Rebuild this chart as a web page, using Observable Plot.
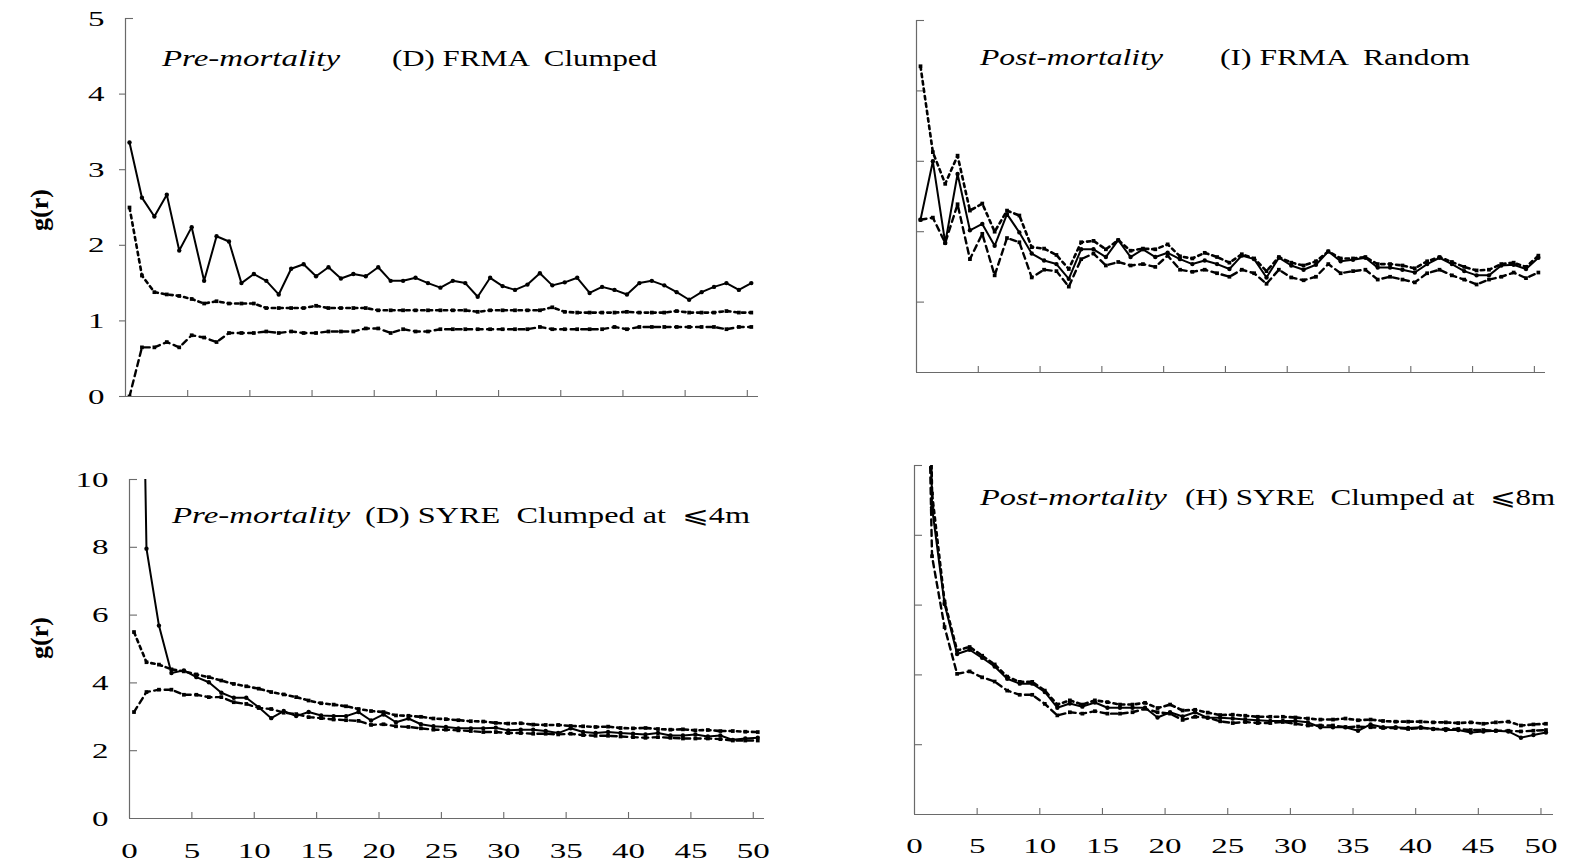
<!DOCTYPE html>
<html>
<head>
<meta charset="utf-8">
<script src="https://cdn.jsdelivr.net/npm/d3@7"></script>
<script src="https://cdn.jsdelivr.net/npm/@observablehq/plot@0.6"></script>
<style>
  body { margin: 0; background: #fff; }
  #fig { position: relative; width: 1572px; height: 862px; overflow: hidden;
         font-family: "Liberation Serif", "Times New Roman", serif; }
  #fig > svg { position: absolute; }
</style>
</head>
<body>
<div id="fig"></div>
<script>
// Distance classes r (m) and tick values shared by all panels
const lag = d3.range(0, 51);
const xTicks = [0, 5, 10, 15, 20, 25, 30, 35, 40, 45, 50];

// FRMA, pre-mortality: observed g(r), upper and lower envelopes
const frmaPreObs = [3.36, 2.63, 2.38, 2.67, 1.93, 2.24, 1.53, 2.12, 2.05, 1.50,
  1.62, 1.53, 1.35, 1.69, 1.75, 1.59, 1.71, 1.56, 1.62, 1.59,
  1.71, 1.53, 1.53, 1.57, 1.50, 1.44, 1.53, 1.50, 1.32, 1.57,
  1.46, 1.41, 1.48, 1.63, 1.47, 1.51, 1.57, 1.37, 1.45, 1.41,
  1.35, 1.50, 1.53, 1.47, 1.38, 1.28, 1.38, 1.45, 1.50, 1.41, 1.50];
const frmaPreHi = [2.50, 1.60, 1.38, 1.35, 1.33, 1.29, 1.23, 1.26, 1.23, 1.23,
  1.23, 1.17, 1.17, 1.17, 1.17, 1.20, 1.17, 1.17, 1.17, 1.17,
  1.14, 1.14, 1.14, 1.14, 1.14, 1.14, 1.14, 1.14, 1.12, 1.14,
  1.14, 1.14, 1.14, 1.14, 1.18, 1.12, 1.11, 1.11, 1.11, 1.11,
  1.12, 1.11, 1.11, 1.11, 1.13, 1.11, 1.11, 1.11, 1.13, 1.11, 1.11];
const frmaPreLo = [0.00, 0.65, 0.65, 0.72, 0.65, 0.81, 0.78, 0.72, 0.84, 0.84,
  0.84, 0.86, 0.84, 0.86, 0.84, 0.84, 0.86, 0.86, 0.86, 0.90,
  0.90, 0.84, 0.89, 0.86, 0.86, 0.89, 0.89, 0.89, 0.89, 0.89,
  0.89, 0.89, 0.89, 0.92, 0.89, 0.89, 0.89, 0.89, 0.89, 0.92,
  0.89, 0.92, 0.92, 0.92, 0.92, 0.92, 0.92, 0.92, 0.89, 0.92, 0.92];

// FRMA, post-mortality
const frmaPostObs = [2.17, 3.00, 1.84, 2.82, 2.02, 2.11, 1.80, 2.25, 1.99, 1.69,
  1.59, 1.54, 1.33, 1.75, 1.75, 1.64, 1.88, 1.64, 1.75, 1.64,
  1.70, 1.61, 1.54, 1.59, 1.54, 1.47, 1.66, 1.61, 1.35, 1.63,
  1.52, 1.46, 1.53, 1.72, 1.58, 1.60, 1.63, 1.49, 1.49, 1.46,
  1.42, 1.54, 1.63, 1.54, 1.44, 1.38, 1.38, 1.52, 1.53, 1.47, 1.63];
const frmaPostHi = [4.35, 3.13, 2.68, 3.08, 2.30, 2.40, 2.00, 2.30, 2.23, 1.78,
  1.76, 1.67, 1.47, 1.85, 1.87, 1.75, 1.88, 1.73, 1.76, 1.75,
  1.82, 1.65, 1.62, 1.70, 1.64, 1.56, 1.68, 1.62, 1.44, 1.64,
  1.56, 1.52, 1.58, 1.72, 1.62, 1.62, 1.64, 1.54, 1.54, 1.52,
  1.48, 1.58, 1.64, 1.57, 1.50, 1.45, 1.46, 1.54, 1.56, 1.50, 1.66];
const frmaPostLo = [2.17, 2.20, 1.84, 2.39, 1.61, 1.97, 1.38, 1.91, 1.85, 1.35,
  1.46, 1.44, 1.22, 1.61, 1.69, 1.52, 1.57, 1.52, 1.54, 1.50,
  1.66, 1.46, 1.43, 1.46, 1.41, 1.36, 1.46, 1.41, 1.26, 1.46,
  1.35, 1.31, 1.36, 1.54, 1.41, 1.44, 1.46, 1.32, 1.36, 1.32,
  1.28, 1.41, 1.46, 1.38, 1.32, 1.25, 1.32, 1.36, 1.42, 1.34, 1.42];

// SYRE, pre-mortality (first class runs off the top of the axis)
const syrePreObs = [30, 7.96, 5.69, 4.29, 4.37, 4.17, 4.02, 3.71, 3.56, 3.56,
  3.28, 2.96, 3.17, 3.02, 3.14, 3.04, 3.02, 3.02, 3.14, 2.89,
  3.07, 2.84, 2.95, 2.78, 2.72, 2.70, 2.66, 2.66, 2.66, 2.68,
  2.60, 2.62, 2.62, 2.58, 2.52, 2.66, 2.55, 2.52, 2.55, 2.52,
  2.50, 2.48, 2.52, 2.45, 2.45, 2.48, 2.42, 2.45, 2.32, 2.36, 2.38];
const syrePreHi = [5.50, 4.61, 4.54, 4.40, 4.34, 4.25, 4.17, 4.07, 3.97, 3.90,
  3.83, 3.73, 3.66, 3.58, 3.48, 3.40, 3.36, 3.31, 3.23, 3.17,
  3.14, 3.04, 3.03, 3.00, 2.95, 2.93, 2.90, 2.87, 2.86, 2.82,
  2.80, 2.81, 2.77, 2.76, 2.76, 2.73, 2.72, 2.70, 2.71, 2.67,
  2.66, 2.67, 2.64, 2.62, 2.63, 2.60, 2.61, 2.58, 2.58, 2.56, 2.55];
const syrePreLo = [3.14, 3.73, 3.80, 3.80, 3.65, 3.65, 3.58, 3.58, 3.43, 3.38,
  3.26, 3.23, 3.12, 3.08, 2.99, 2.96, 2.92, 2.90, 2.88, 2.76,
  2.78, 2.72, 2.70, 2.66, 2.62, 2.62, 2.60, 2.58, 2.55, 2.55,
  2.52, 2.52, 2.50, 2.50, 2.48, 2.50, 2.46, 2.44, 2.44, 2.42,
  2.40, 2.38, 2.40, 2.38, 2.36, 2.36, 2.36, 2.34, 2.30, 2.30, 2.30];

// SYRE, post-mortality
const syrePostObs = [35, 8.8, 6.03, 4.60, 4.72, 4.49, 4.24, 3.89, 3.75, 3.75,
  3.51, 3.06, 3.18, 3.09, 3.21, 3.06, 3.06, 3.06, 3.06, 2.78,
  2.93, 2.81, 2.93, 2.77, 2.77, 2.75, 2.72, 2.70, 2.68, 2.68,
  2.68, 2.64, 2.50, 2.50, 2.50, 2.40, 2.58, 2.50, 2.50, 2.48,
  2.50, 2.45, 2.42, 2.42, 2.35, 2.38, 2.40, 2.38, 2.20, 2.28, 2.35];
const syrePostHi = [30, 9.2, 6.10, 4.70, 4.80, 4.55, 4.30, 3.95, 3.80, 3.80,
  3.55, 3.15, 3.27, 3.15, 3.27, 3.22, 3.15, 3.15, 3.20, 3.05,
  3.15, 2.98, 3.00, 2.92, 2.85, 2.86, 2.83, 2.80, 2.80, 2.80,
  2.78, 2.75, 2.72, 2.72, 2.75, 2.70, 2.72, 2.68, 2.66, 2.66,
  2.66, 2.64, 2.64, 2.62, 2.64, 2.60, 2.64, 2.66, 2.55, 2.58, 2.60];
const syrePostLo = [25, 7.4, 5.37, 4.03, 4.10, 3.93, 3.81, 3.55, 3.43, 3.43,
  3.17, 2.84, 2.93, 2.89, 2.96, 2.89, 2.89, 2.93, 3.03, 2.93,
  2.89, 2.71, 2.80, 2.78, 2.67, 2.62, 2.65, 2.62, 2.62, 2.65,
  2.60, 2.55, 2.55, 2.55, 2.50, 2.52, 2.50, 2.48, 2.48, 2.45,
  2.48, 2.45, 2.45, 2.45, 2.42, 2.42, 2.40, 2.40, 2.38, 2.40, 2.42];

const ink = "#000";
const axisInk = "#6a6a6a";
const serif = '"Liberation Serif", "Times New Roman", serif';

// Stretch SVG text horizontally (wide, tightly set serif lettering)
function widen(root, k) {
  root.querySelectorAll("text").forEach(t => {
    const w = t.getComputedTextLength();
    if (w > 0) {
      t.setAttribute("textLength", (w * k).toFixed(1));
      t.setAttribute("lengthAdjust", "spacingAndGlyphs");
    }
  });
}

function panel(p) {
  const iw = p.width - p.ml - p.mr;
  const ih = p.height - p.mt - p.mb;
  const series = (vals, style, dotStyle) => [
    Plot.line(lag, {x: d => d, y: (d, i) => vals[i], dx: p.dx, clip: true, stroke: ink, ...style}),
    Plot.dot(lag, {x: d => d, y: (d, i) => vals[i], dx: p.dx, clip: true, fill: ink, stroke: "none", ...dotStyle})
  ];
  const marks = [
    Plot.ruleY([0], {stroke: axisInk, strokeWidth: 1.2}),
    Plot.ruleX([0], {stroke: axisInk, strokeWidth: 1.2}),
    Plot.tickX(xTicks.slice(1), {x: d => d, insetTop: ih - 6, stroke: axisInk, strokeWidth: 1.1}),
    Plot.tickY(p.yTicksOut || [], {y: d => d, insetLeft: -6, insetRight: iw, stroke: axisInk, strokeWidth: 1.1}),
    Plot.tickY(p.yTicksIn || [], {y: d => d, insetRight: iw - 8, stroke: axisInk, strokeWidth: 1.1}),
    ...series(p.lo, {strokeWidth: 2.4, strokeDasharray: "6,4.5"}, {r: 2.1, symbol: "square"}),
    ...series(p.hi, {strokeWidth: 2.6, strokeDasharray: "3.5,4"}, {r: 2.1, symbol: "square"}),
    ...series(p.obs, {strokeWidth: 2}, {r: 2.2})
  ];
  if (p.yLabels) marks.push(Plot.axisY(p.yLabels, {tickSize: 0, tickPadding: 21, fontSize: 22, label: null, tickFormat: d => String(d)}));
  if (p.xLabels) marks.push(Plot.axisX(xTicks, {tickSize: 0, tickPadding: p.xPad, fontSize: 22, label: null, tickFormat: d => String(d)}));
  const svg = Plot.plot({
    width: p.width, height: p.height,
    marginTop: p.mt, marginRight: p.mr, marginBottom: p.mb, marginLeft: p.ml,
    x: {domain: [0, p.xMax], axis: null},
    y: {domain: [0, p.yMax], axis: null},
    style: {fontFamily: serif, fontSize: "22px", color: "#000", background: "transparent", overflow: "visible"},
    marks
  });
  svg.style.left = p.left + "px";
  svg.style.top = p.top + "px";
  return svg;
}

const fig = document.getElementById("fig");

const panels = [
  panel({obs: frmaPreObs, hi: frmaPreHi, lo: frmaPreLo, yMax: 5, xMax: 50.9, dx: 4,
    left: 0, top: 0, width: 780, height: 420, ml: 125, mr: 22, mt: 18, mb: 24,
    yTicksOut: [0, 1, 2, 3, 4], yTicksIn: [5], yLabels: [0, 1, 2, 3, 4, 5]}),
  panel({obs: frmaPostObs, hi: frmaPostHi, lo: frmaPostLo, yMax: 5, xMax: 50.9, dx: 4,
    left: 790, top: 0, width: 780, height: 400, ml: 126, mr: 25, mt: 20, mb: 28,
    yTicksIn: [1, 2, 3, 4, 5]}),
  panel({obs: syrePreObs, hi: syrePreHi, lo: syrePreLo, yMax: 10, xMax: 50.9, dx: 4.5,
    left: 0, top: 450, width: 780, height: 408, ml: 129, mr: 16, mt: 29, mb: 40,
    yTicksIn: [2, 4, 6, 8, 10], yLabels: [0, 2, 4, 6, 8, 10], xLabels: true, xPad: 24}),
  panel({obs: syrePostObs, hi: syrePostHi, lo: syrePostLo, yMax: 10, xMax: 51, dx: 5,
    left: 790, top: 450, width: 780, height: 408, ml: 124, mr: 17, mt: 15, mb: 44,
    yTicksIn: [2, 4, 6, 8, 10], xLabels: true, xPad: 23})
];
panels.forEach(svg => fig.appendChild(svg));
panels.forEach(svg => widen(svg, 1.5));

// Panel captions and y-axis titles
const NS = "http://www.w3.org/2000/svg";
const overlay = document.createElementNS(NS, "svg");
overlay.setAttribute("width", 1572);
overlay.setAttribute("height", 862);
overlay.style.left = "0px";
overlay.style.top = "0px";
overlay.style.pointerEvents = "none";
fig.appendChild(overlay);

const captions = [
  {text: "Pre-mortality", x: 162, y: 66, w: 178, italic: true},
  {text: "(D) FRMA  Clumped", x: 392, y: 66, w: 265},
  {text: "Post-mortality", x: 980, y: 65, w: 183, italic: true},
  {text: "(I) FRMA  Random", x: 1220, y: 65, w: 250},
  {text: "Pre-mortality", x: 172, y: 523, w: 178, italic: true},
  {text: "(D) SYRE  Clumped at  \u2A7D4m", x: 365, y: 523, w: 385},
  {text: "Post-mortality", x: 980, y: 505, w: 187, italic: true},
  {text: "(H) SYRE  Clumped at  \u2A7D8m", x: 1185, y: 505, w: 370}
];
captions.forEach(c => {
  const t = document.createElementNS(NS, "text");
  t.setAttribute("x", c.x);
  t.setAttribute("y", c.y);
  t.setAttribute("font-family", serif);
  t.setAttribute("font-size", 23);
  if (c.italic) t.setAttribute("font-style", "italic");
  t.style.whiteSpace = "pre";
  t.textContent = c.text;
  t.setAttribute("textLength", c.w);
  t.setAttribute("lengthAdjust", "spacingAndGlyphs");
  overlay.appendChild(t);
});

[210, 638].forEach(cy => {
  const t = document.createElementNS(NS, "text");
  t.setAttribute("transform", `translate(48,${cy}) rotate(-90)`);
  t.setAttribute("text-anchor", "middle");
  t.setAttribute("font-family", serif);
  t.setAttribute("font-size", 26);
  t.setAttribute("font-weight", "bold");
  t.textContent = "g(r)";
  overlay.appendChild(t);
});
</script>
</body>
</html>
